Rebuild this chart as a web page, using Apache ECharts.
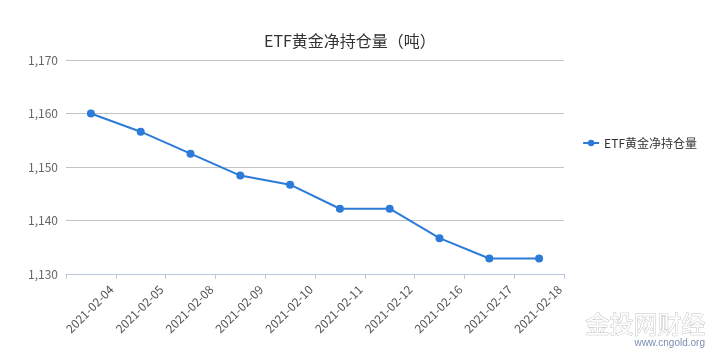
<!DOCTYPE html>
<html><head><meta charset="utf-8">
<script src="https://cdn.jsdelivr.net/npm/echarts@6/dist/echarts.min.js"></script>
<style>html,body{margin:0;padding:0;background:#fff}#c{width:719px;height:359px}</style>
</head><body><div id="c"></div>
<script>
const categories = ['2021-02-04','2021-02-05','2021-02-08','2021-02-09','2021-02-10','2021-02-11','2021-02-12','2021-02-16','2021-02-17','2021-02-18'];
const holdings = [1160.0, 1156.6, 1152.5, 1148.4, 1146.7, 1142.2, 1142.2, 1136.7, 1132.9, 1132.9];
const seriesName = 'ETF黄金净持仓量';
const titleText = 'ETF黄金净持仓量（吨）';
const yMin = 1130, yMax = 1170, yStep = 10;

const chart = echarts.init(document.getElementById('c'));
chart.setOption({
  animation: false,
  textStyle: {fontFamily: '"Noto Sans CJK SC", "Open Sans", sans-serif'},
  title: {text: titleText, left: 259, top: 28,
    textStyle: {fontSize: 16, fontWeight: 'normal', color: '#333'}},
  legend: {orient: 'vertical', right: 17, top: 132, itemWidth: 16, itemHeight: 8,
    textStyle: {fontSize: 12, color: '#333'}, data: [seriesName]},
  grid: {left: 66, right: 155, top: 60, bottom: 85},
  xAxis: [
    {type: 'category', data: categories, boundaryGap: true,
      axisLine: {show: false}, axisTick: {show: false}, axisLabel: {show: false}},
    {type: 'value', position: 'bottom', min: 0, max: categories.length, interval: 1,
      splitLine: {show: false},
      axisLine: {lineStyle: {color: '#b9c9dc'}},
      axisTick: {length: 5, lineStyle: {color: '#b9c9dc'}},
      axisLabel: {rotate: 45, fontSize: 12, color: '#555', margin: 9, padding: [0, 6, 0, 0],
        showMinLabel: true, showMaxLabel: true,
        formatter: v => (v >= 1 ? categories[v - 1] : '')}}
  ],
  yAxis: {type: 'value', min: yMin, max: yMax, interval: yStep,
    axisLine: {show: false}, axisTick: {show: false},
    axisLabel: {fontSize: 12, color: '#666', margin: 8,
      formatter: v => v.toLocaleString('en-US')},
    splitLine: {lineStyle: {color: '#c4c4c4'}}},
  graphic: [
    {type: 'text', right: 13, bottom: 23, style: {text: '金投网财经', fontSize: 24,
      fill: '#fff', stroke: '#c4c4c4', lineWidth: 1, fontFamily: '"Noto Sans CJK SC"'}},
    {type: 'text', right: 14, bottom: 11, style: {text: 'www.cngold.org', fontSize: 10,
      fill: '#7d8fb0', fontFamily: 'sans-serif'}}
  ],
  series: [{name: seriesName, type: 'line', xAxisIndex: 0, data: holdings, symbol: 'circle', symbolSize: 8,
    itemStyle: {color: '#2d7bd8'}, lineStyle: {width: 2, color: '#2d7bd8'}}]
});
</script></body></html>
